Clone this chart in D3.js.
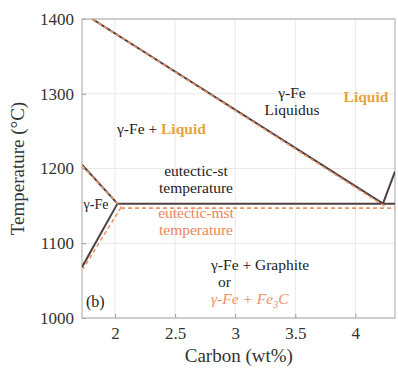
<!DOCTYPE html>
<html><head><meta charset="utf-8">
<script src="https://cdn.jsdelivr.net/npm/d3@7"></script>
<style>svg text, svg tspan { font-family: 'Times New Roman', 'Liberation Serif', Tinos, serif !important; }</style>
</head><body style="margin:0">
<script>
const xTicks = [2, 2.5, 3, 3.5, 4];
const yTicks = [1000, 1100, 1200, 1300, 1400];
const xDomain = [1.725, 4.33];
const yDomain = [1000, 1400];
// stable (graphite) system lines
const liquidusSt = [[1.81, 1400], [4.23, 1153]];
const graphiteLiq = [[4.23, 1153], [4.33, 1196]];
const solidusSt = [[1.725, 1205], [2.02, 1153]];
const solvusSt = [[2.02, 1153], [1.725, 1068]];
const eutecticSt = [[2.02, 1153], [4.33, 1153]];
// metastable (Fe3C) system lines
const liquidusMst = [[1.81, 1400], [4.25, 1149]];
const solidusMst = [[1.725, 1204], [2.05, 1148]];
const solvusMst = [[2.05, 1148], [1.735, 1066]];
const eutecticMst = [[2.05, 1147], [4.33, 1147]];

const FONT = "'Times New Roman'";
const W = 398, H = 369;
const m = {l: 82, t: 19, r: 3, b: 51};
const svg = d3.select("body").append("svg").attr("width", W).attr("height", H);
const x = d3.scaleLinear().domain(xDomain).range([m.l, W - m.r]);
const y = d3.scaleLinear().domain(yDomain).range([H - m.b, m.t]);

// grid
svg.append("g").selectAll("line").data(xTicks).join("line")
  .attr("x1", d => x(d)).attr("x2", d => x(d)).attr("y1", y(1400)).attr("y2", y(1000))
  .attr("stroke", "#e8e8e8").attr("stroke-width", 1);
svg.append("g").selectAll("line").data(yTicks).join("line")
  .attr("x1", x(xDomain[0])).attr("x2", x(xDomain[1])).attr("y1", d => y(d)).attr("y2", d => y(d))
  .attr("stroke", "#e8e8e8").attr("stroke-width", 1);

// axes
const xAxis = d3.axisBottom(x).tickValues(xTicks).tickSize(-4).tickPadding(9).tickFormat(d3.format("~g"));
const yAxis = d3.axisLeft(y).tickValues(yTicks).tickSize(-4).tickPadding(8).tickFormat(d3.format("d"));
const gx = svg.append("g").attr("transform", `translate(0,${y(1000)})`).call(xAxis);
const gy = svg.append("g").attr("transform", `translate(${x(xDomain[0])},0)`).call(yAxis);
[gx, gy].forEach(g => {
  g.attr("font-family", null).attr("font-size", null);
  g.select(".domain").remove();
  g.selectAll("line").attr("stroke", "#999");
  g.selectAll("text").attr("fill", "#333").style("font-family", FONT).attr("font-size", 17);
});
// frame
svg.append("rect").attr("x", x(xDomain[0])).attr("y", y(1400))
  .attr("width", x(xDomain[1]) - x(xDomain[0])).attr("height", y(1000) - y(1400))
  .attr("fill", "none").attr("stroke", "#b5b5b5").attr("stroke-width", 1.2);

const line = d3.line().x(d => x(d[0])).y(d => y(d[1]));
svg.append("clipPath").attr("id", "c").append("rect")
  .attr("x", x(xDomain[0])).attr("y", y(1400)).attr("width", x(xDomain[1]) - x(xDomain[0])).attr("height", y(1000) - y(1400));
const gl = svg.append("g").attr("clip-path", "url(#c)");
[liquidusSt, graphiteLiq, solidusSt, solvusSt, eutecticSt].forEach(d =>
  gl.append("path").attr("d", line(d)).attr("fill", "none").attr("stroke", "#4f3f3f").attr("stroke-width", 2));
[liquidusMst, solidusMst, solvusMst, eutecticMst].forEach(d =>
  gl.append("path").attr("d", line(d)).attr("fill", "none").attr("stroke", "#ec9466").attr("stroke-width", 1.6).attr("stroke-dasharray", "4,3"));

// texts
const T = (tx, ty, s, color, size, anchor, extra) => {
  const t = svg.append("text").attr("x", tx).attr("y", ty).attr("fill", color).style("font-family", FONT)
    .attr("font-size", size).attr("text-anchor", anchor || "start").text(s);
  if (extra) extra(t);
  return t;
};
const lab1 = T(117, 134, "", "#222", 15.5);
lab1.append("tspan").text("γ-Fe + ");
lab1.append("tspan").attr("fill", "#e6a43a").attr("font-weight", "bold").text("Liquid");
T(292, 98, "γ-Fe", "#222", 15.5, "middle");
T(292, 115, "Liquidus", "#222", 15.5, "middle");
T(366, 102, "Liquid", "#e6a43a", 15.5, "middle", t => t.attr("font-weight", "bold"));
T(196, 176, "eutectic-st", "#222", 15.5, "middle");
T(196, 193, "temperature", "#222", 15.5, "middle");
T(96, 209, "γ-Fe", "#222", 14, "middle");
T(196, 218, "eutectic-mst", "#e8865a", 15.5, "middle");
T(196, 235, "temperature", "#e8865a", 15.5, "middle");
T(211, 270, "γ-Fe + Graphite", "#222", 15.5, "start");
T(218, 287, "or", "#222", 15.5, "start");
const lab2 = T(211, 304, "", "#ee9066", 15.5, "start", t => t.attr("font-style", "italic"));
lab2.append("tspan").text("γ-Fe + Fe");
lab2.append("tspan").attr("font-size", 10).attr("dy", 4).text("3");
lab2.append("tspan").attr("dy", -4).text("C");
T(86, 307, "(b)", "#222", 16, "start");

// axis titles
T(x(3.03), 362, "Carbon (wt%)", "#333", 19, "middle");
T(0, 0, "Temperature (°C)", "#333", 19, "middle", t =>
  t.attr("transform", `translate(24,${(y(1000) + y(1400)) / 2}) rotate(-90)`));
</script>
</body></html>
